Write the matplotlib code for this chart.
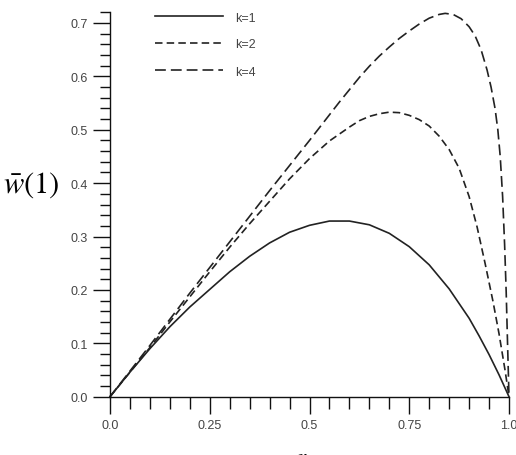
import matplotlib
matplotlib.use("Agg")
import matplotlib.pyplot as plt
from matplotlib.ticker import MultipleLocator, FixedLocator, FixedFormatter

# values
r_k1 = [0.0, 0.05, 0.1, 0.15, 0.2, 0.25, 0.3, 0.35, 0.4, 0.45, 0.5, 0.55,
        0.6, 0.65, 0.7, 0.75, 0.8, 0.85, 0.9, 0.925, 0.95, 0.975, 1.0]
w_k1 = [0.0, 0.046, 0.090, 0.131, 0.168, 0.201, 0.234, 0.263, 0.288, 0.308,
        0.321, 0.329, 0.329, 0.322, 0.306, 0.281, 0.247, 0.202, 0.147, 0.114,
        0.079, 0.041, 0.0]

r_k2 = [0.0, 0.05, 0.1, 0.15, 0.2, 0.25, 0.3, 0.35, 0.4, 0.45, 0.5, 0.55, 0.6,
        0.625, 0.65, 0.675, 0.7, 0.725, 0.75, 0.775, 0.8, 0.825, 0.85, 0.875,
        0.9, 0.92, 0.94, 0.96, 0.975, 0.99, 1.0]
w_k2 = [0.0, 0.046, 0.092, 0.140, 0.187, 0.234, 0.280, 0.324, 0.366, 0.408,
        0.446, 0.479, 0.505, 0.517, 0.525, 0.530, 0.533, 0.532, 0.527, 0.519,
        0.507, 0.488, 0.463, 0.428, 0.375, 0.318, 0.250, 0.178, 0.118, 0.050, 0.0]

r_k4 = [0.0, 0.05, 0.1, 0.15, 0.2, 0.25, 0.3, 0.35, 0.4, 0.45, 0.5, 0.55,
        0.575, 0.6, 0.625, 0.65, 0.675, 0.7, 0.725, 0.75, 0.775, 0.8, 0.825,
        0.84, 0.86, 0.88, 0.9, 0.915, 0.93, 0.945, 0.955, 0.965, 0.972, 0.978,
        0.984, 0.989, 0.993, 0.996, 0.998, 1.0]
w_k4 = [0.0, 0.048, 0.096, 0.145, 0.194, 0.242, 0.290, 0.338, 0.386, 0.433,
        0.480, 0.528, 0.552, 0.575, 0.598, 0.619, 0.638, 0.655, 0.671, 0.685,
        0.698, 0.709, 0.716, 0.718, 0.716, 0.708, 0.693, 0.676, 0.650, 0.612,
        0.580, 0.540, 0.500, 0.450, 0.375, 0.285, 0.195, 0.110, 0.055, 0.0]

labels = ["k=1", "k=2", "k=4"]
x_ticks = [0.0, 0.25, 0.5, 0.75, 1.0]
x_ticklabels = ["0.0", "0.25", "0.5", "0.75", "1.0"]

plt.rcParams['font.family'] = ['Liberation Sans', 'DejaVu Sans']
plt.rcParams['mathtext.fontset'] = 'stix'

fig = plt.figure(figsize=(5.16, 4.56), dpi=100)
ax = fig.add_axes([110 / 516, 1 - 397.7 / 456, 399 / 516, (397.7 - 13.3) / 456])

ax.plot(r_k1, w_k1, color='#222222', lw=1.2, ls='-', label=labels[0], clip_on=False)
ax.plot(r_k2, w_k2, color='#222222', lw=1.2, ls=(0, (4.5, 2.5)), label=labels[1], clip_on=False)
ax.plot(r_k4, w_k4, color='#222222', lw=1.2, ls=(0, (6.5, 3.0)), label=labels[2], clip_on=False)

ax.set_xlim(0, 1.0)
ax.set_ylim(0, 0.72)

for s in ['top', 'right']:
    ax.spines[s].set_visible(False)
for s in ['left', 'bottom']:
    ax.spines[s].set_linewidth(1.0)
    ax.spines[s].set_color('#111111')

ax.xaxis.set_major_locator(FixedLocator(x_ticks))
ax.xaxis.set_major_formatter(FixedFormatter(x_ticklabels))
ax.xaxis.set_minor_locator(MultipleLocator(0.05))
ax.yaxis.set_major_locator(MultipleLocator(0.1))
ax.yaxis.set_minor_locator(MultipleLocator(0.02))
ax.yaxis.set_major_formatter(plt.FuncFormatter(lambda v, p: "%.1f" % v))

ax.tick_params(axis='both', which='major', direction='out', length=12, width=1.0,
               color='#111111', labelsize=9, labelcolor='#444444', pad=4)
ax.tick_params(axis='x', which='minor', direction='out', length=8.5, width=1.0, color='#111111')
ax.tick_params(axis='y', which='minor', direction='out', length=7, width=1.0, color='#111111')

ax.legend(loc='upper left', bbox_to_anchor=(155 / 516, 1 - 12.5 / 456),
          bbox_transform=fig.transFigure, frameon=False, fontsize=9,
          handlelength=5.4, handletextpad=1.0, labelspacing=1.2,
          borderpad=0, borderaxespad=0, labelcolor='#444444')

fig.text(31 / 516, 1 - 185 / 456, r'$\bar{w}(1)$', fontsize=22, ha='center', va='center')
fig.text(302 / 516, 1 - 448 / 456, r'$r$', fontsize=17, ha='center', va='top')

fig.savefig('out.png', dpi=100)
